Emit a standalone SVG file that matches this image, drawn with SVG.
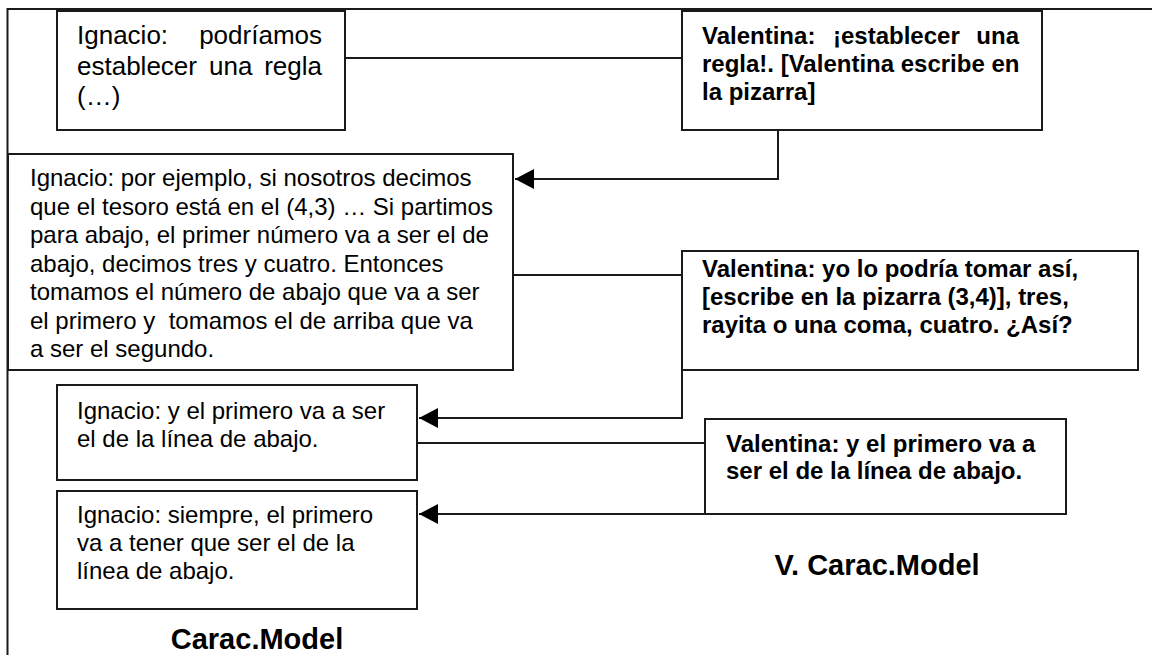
<svg xmlns="http://www.w3.org/2000/svg" width="1152" height="655" viewBox="0 0 1152 655">
<style>
.box{fill:#fff;stroke:#1a1a1a;stroke-width:2}
.frame{fill:none;stroke:#1a1a1a;stroke-width:2}
.con{fill:none;stroke:#1a1a1a;stroke-width:2}
.t{font-family:"Liberation Sans",Arial,sans-serif;font-size:24px;fill:#000}
.big{font-size:26px}
.b{font-weight:bold}
.lbl{font-family:"Liberation Sans",Arial,sans-serif;font-size:29px;font-weight:bold;fill:#000;text-anchor:middle}
</style>
<defs>
<marker id="arr" markerUnits="userSpaceOnUse" markerWidth="19" markerHeight="20" refX="19" refY="10" orient="auto">
<path d="M0,0 L19,10 L0,20 z" fill="#000"/>
</marker>
</defs>
<rect width="1152" height="655" fill="#fff"/>
<g id="frame">
<path class="frame" d="M7.5,655 V9 H1152"/>
</g>
<g id="connectors">
<path class="con" d="M345,58 H682"/>
<path class="con" d="M778,130 V179 H515" marker-end="url(#arr)"/>
<path class="con" d="M513,275 H682"/>
<path class="con" d="M682,370 V418 H419" marker-end="url(#arr)"/>
<path class="con" d="M417,443 H705"/>
<path class="con" d="M705,514 H419" marker-end="url(#arr)"/>
</g>
<g id="n-ignacio-1">
<rect class="box" x="57" y="11" width="288" height="119"/>
<text class="t big" x="77" y="44">Ignacio:</text>
<text class="t big" x="322" y="44" text-anchor="end">podríamos</text>
<text class="t big" x="77" y="74.5">establecer</text>
<text class="t big" x="209" y="74.5">una</text>
<text class="t big" x="322" y="74.5" text-anchor="end">regla</text>
<text class="t big" x="77" y="105">(…)</text>
</g>
<g id="n-valentina-1">
<rect class="box" x="682" y="11" width="360" height="119"/>
<text class="t b" x="702" y="43.5">Valentina:</text>
<text class="t b" x="833" y="43.5">¡establecer</text>
<text class="t b" x="1019" y="43.5" text-anchor="end">una</text>
<text class="t b" x="702" y="71.5">regla!. [Valentina escribe en</text>
<text class="t b" x="702" y="99.5">la pizarra]</text>
</g>
<g id="n-ignacio-2">
<rect class="box" x="8" y="154" width="505" height="216"/>
<text class="t" x="30" y="186">Ignacio: por ejemplo, si nosotros decimos</text>
<text class="t" x="30" y="214.5">que el tesoro está en el (4,3) … Si partimos</text>
<text class="t" x="30" y="243">para abajo, el primer número va a ser el de</text>
<text class="t" x="30" y="271.5">abajo, decimos tres y cuatro. Entonces</text>
<text class="t" x="30" y="300">tomamos el número de abajo que va a ser</text>
<text class="t" x="30" y="328.5" style="white-space:pre">el primero y  tomamos el de arriba que va</text>
<text class="t" x="30" y="357">a ser el segundo.</text>
</g>
<g id="n-valentina-2">
<rect class="box" x="682" y="251" width="456" height="119"/>
<text class="t b" x="702" y="277">Valentina: yo lo podría tomar así,</text>
<text class="t b" x="702" y="305">[escribe en la pizarra (3,4)], tres,</text>
<text class="t b" x="702" y="333">rayita o una coma, cuatro. ¿Así?</text>
</g>
<g id="n-ignacio-3">
<rect class="box" x="57" y="385" width="360" height="95"/>
<text class="t" x="77" y="419">Ignacio: y el primero va a ser</text>
<text class="t" x="77" y="447">el de la línea de abajo.</text>
</g>
<g id="n-valentina-3">
<rect class="box" x="705" y="419" width="361" height="95"/>
<text class="t b" x="726" y="452">Valentina: y el primero va a</text>
<text class="t b" x="726" y="479">ser el de la línea de abajo.</text>
</g>
<g id="n-ignacio-4">
<rect class="box" x="57" y="491" width="360" height="118"/>
<text class="t" x="77" y="523">Ignacio: siempre, el primero</text>
<text class="t" x="77" y="551">va a tener que ser el de la</text>
<text class="t" x="77" y="579">línea de abajo.</text>
</g>
<g id="labels">
<text class="lbl" x="257" y="649">Carac.Model</text>
<text class="lbl" x="877" y="575">V. Carac.Model</text>
</g>
</svg>
